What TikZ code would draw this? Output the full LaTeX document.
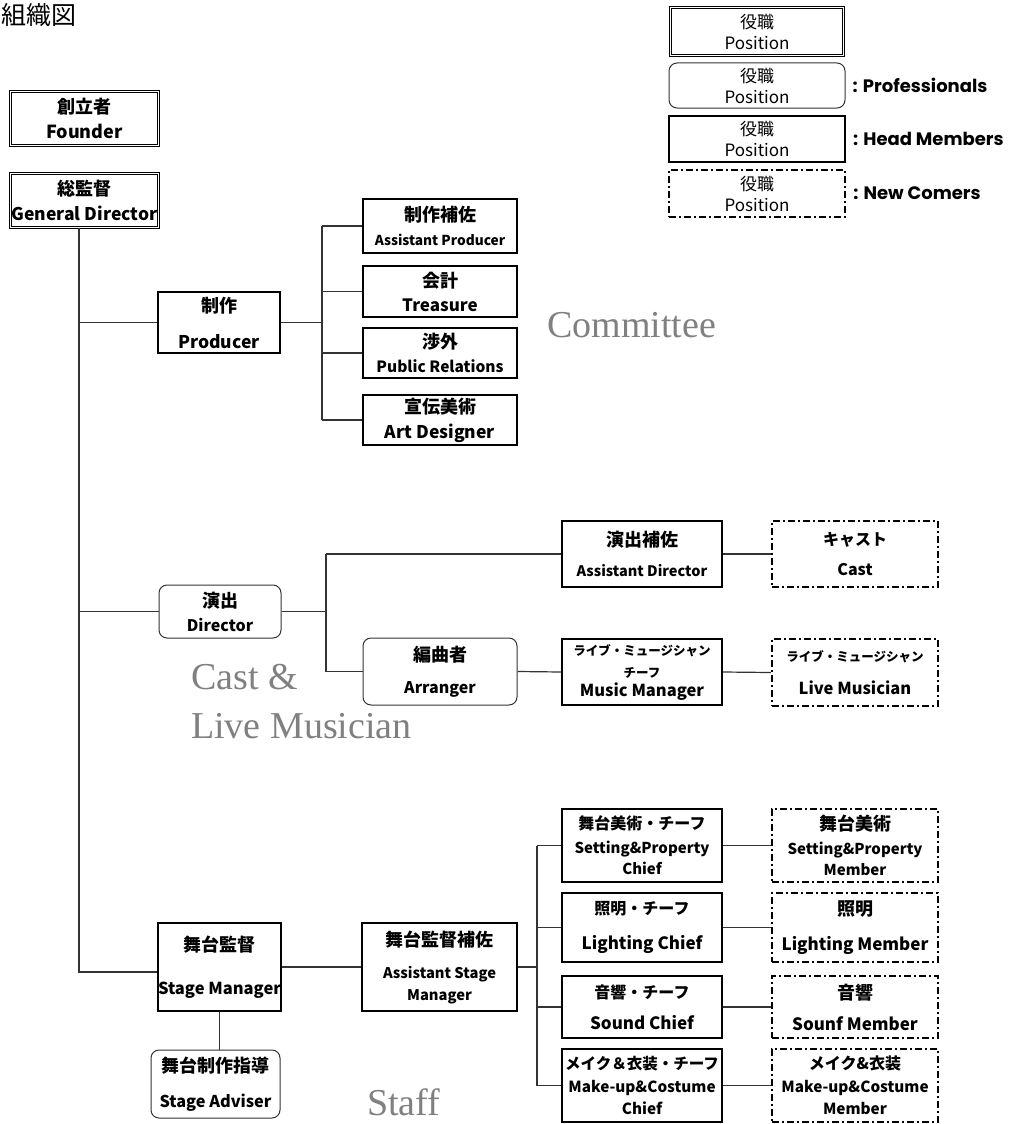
\documentclass[tikz,border=0pt]{standalone}
\usepackage{fontspec}
\setmainfont{Liberation Serif}
\newfontfamily\jpf{Noto Sans CJK JP}
\newfontfamily\legf{Poppins}
\usetikzlibrary{positioning}

\definecolor{linegray}{HTML}{333333}
\definecolor{grouptext}{HTML}{808080}

% size switches for the two lines of a box
\newcommand{\jt}[2][18]{{\fontsize{#1}{#1}\selectfont #2}}
\newcommand{\lt}[2][16]{{\fontsize{#1}{#1}\selectfont #2}}

\begin{document}
\begin{tikzpicture}[x=1pt, y=-1pt,
  every node/.style={align=center, inner sep=0pt, font=\jpf\bfseries\fontsize{13}{24}\selectfont},
  topbox/.style={draw, double, double distance=1.6pt, line width=1.1pt},
  headbox/.style={draw, line width=2pt},
  probox/.style={draw=linegray, line width=1pt, rounded corners=8pt},
  newbox/.style={draw, line width=2.4pt, dash pattern=on 7pt off 3pt on 2pt off 3pt},
  comcol/.style={minimum width=154pt},
  chiefcol/.style={minimum width=160pt},
  memcol/.style={minimum width=166pt},
  legtext/.style={font=\jpf\fontsize{17}{22}\selectfont, minimum width=176pt},
  leglabel/.style={font=\legf\bfseries\fontsize{18}{20}\selectfont},
  grouplabel/.style={font=\fontsize{38}{49}\selectfont, text=grouptext, align=left},
  conn/.style={draw=linegray, line width=1.2pt}]
\useasboundingbox (0,0) rectangle (1030,1124);

% title
\node[font=\jpf\fontsize{25}{25}\selectfont, anchor=north west] (title) at (1,3) {組織図};

% legend
\node[legtext, topbox, minimum width=173pt, minimum height=48pt] (legtop) at (757,31.5) {役職\\[-1pt]Position};
\node[legtext, probox, minimum height=45pt] (legpro) at (757,85.5) {役職\\[-1pt]Position};
\node[legtext, headbox, minimum height=46pt] (leghead) at (757,139) {役職\\[-1pt]Position};
\node[legtext, newbox, minimum height=47pt] (legnew) at (757,193.5) {役職\\[-1pt]Position};
\node[leglabel, right=7pt of legpro] (labpro) {: Professionals};
\node[leglabel, right=7pt of leghead] (labhead) {: Head Members};
\node[leglabel, right=7pt of legnew] (labnew) {: New Comers};

% top of the tree
\node[topbox, minimum width=148pt, minimum height=54pt] (founder) at (84.5,118.5) {\jt{創立者}\\[1pt]\lt[18]{Founder}};
\node[topbox, minimum width=148pt, minimum height=54pt] (gendir) at (84.5,200.5) {\jt{総監督}\\[1pt]\lt[17.5]{General Director}};

% committee
\node[headbox, minimum width=122pt, minimum height=61pt] (producer) at (219,322.5) {\jt{制作}\\[12pt]\lt[17.5]{Producer}};
\node[headbox, comcol, minimum height=54pt] (asstprod) at (440,226) {\jt{制作補佐}\\\lt[13.7]{Assistant Producer}};
\node[headbox, comcol, minimum height=51pt] (treasure) at (440,291.5) {\jt{会計}\\\lt[17]{Treasure}};
\node[headbox, comcol, minimum height=50pt] (pubrel) at (440,353) {\jt{渉外}\\\lt[15.5]{Public Relations}};
\node[headbox, comcol, minimum height=50pt] (artdes) at (440,420) {\jt{宣伝美術}\\[1pt]\lt[17.5]{Art Designer}};
\node[grouplabel, anchor=base west] (committee) at (547,337) {Committee};

% cast & live musician
\node[probox, minimum width=122pt, minimum height=53pt] (director) at (220,611.5) {\jt{演出}\\\lt[16]{Director}};
\node[headbox, chiefcol, minimum height=66pt] (asstdir) at (642,554) {\jt{演出補佐}\\[6pt]\lt[14.5]{Assistant Director}};
\node[newbox, memcol, minimum height=66pt] (cast) at (855,554) {\jt[16]{キャスト}\\[6pt]\lt[16]{Cast}};
\node[probox, comcol, minimum height=67pt] (arranger) at (440,671.5) {\jt{編曲者}\\[8pt]\lt[16]{Arranger}};
\node[headbox, chiefcol, minimum height=66pt] (musicmgr) at (642,672) {\jt[12.5]{ライブ・ミュージシャン}\\[-2pt]\jt[12.5]{チーフ}\\[-5pt]\lt[16.5]{Music Manager}};
\node[newbox, memcol, minimum height=67pt] (livemus) at (855,672.5) {\jt[12.5]{ライブ・ミュージシャン}\\[9pt]\lt[16.5]{Live Musician}};
\node[grouplabel, anchor=base west] (castlabel) at (191,738) {Cast \&\\Live Musician};

% staff
\node[headbox, minimum width=123pt, minimum height=88pt] (stagemgr) at (219.5,967) {\jt{舞台監督}\\[19pt]\lt[16.5]{Stage Manager}};
\node[probox, minimum width=129pt, minimum height=68pt] (stageadv) at (215.5,1084) {\jt{舞台制作指導}\\[11pt]\lt[16.3]{Stage Adviser}};
\node[headbox, minimum width=155pt, minimum height=88pt] (asststage) at (439.5,967) {\jt{舞台監督補佐}\\[8pt]\lt[14.7]{Assistant Stage}\\[-2pt]\lt[14.7]{Manager}};
\node[headbox, chiefcol, minimum height=73pt] (setchief) at (642,845.5) {\jt[16]{舞台美術・チーフ}\\\lt[15]{Setting\&Property}\\[-3pt]\lt[15]{Chief}};
\node[headbox, chiefcol, minimum height=69pt] (lightchief) at (642,927.5) {\jt[16]{照明・チーフ}\\[11pt]\lt[17]{Lighting Chief}};
\node[headbox, chiefcol, minimum height=62pt] (soundchief) at (642,1007) {\jt[16]{音響・チーフ}\\[7pt]\lt[17]{Sound Chief}};
\node[headbox, chiefcol, minimum height=73pt] (makechief) at (642,1085.5) {\jt[15.5]{メイク＆衣装・チーフ}\\[-1pt]\lt[15.3]{Make-up\&Costume}\\[-2pt]\lt[15.3]{Chief}};
\node[newbox, memcol, minimum height=73pt] (setmem) at (855,845.5) {\jt{舞台美術}\\\lt[15]{Setting\&Property}\\[-3pt]\lt[15]{Member}};
\node[newbox, memcol, minimum height=69pt] (lightmem) at (855,927.5) {\jt{照明}\\[11pt]\lt[17]{Lighting Member}};
\node[newbox, memcol, minimum height=62pt] (soundmem) at (855,1007) {\jt{音響}\\[7pt]\lt[17]{Sounf Member}};
\node[newbox, memcol, minimum height=73pt] (makemem) at (855,1085.5) {\jt[16]{メイク\&衣装}\\[-1pt]\lt[15.3]{Make-up\&Costume}\\[-2pt]\lt[15.3]{Member}};
\node[grouplabel, anchor=base west] (stafflabel) at (367,1115) {Staff};

% connectors
\coordinate (spinetop) at ([xshift=-5.5pt]gendir.south);
\coordinate (prodfork) at (322,322);
\coordinate (dirfork) at (326,611);
\coordinate (stagefork) at (537,967);
\draw[conn] (spinetop) |- ([yshift=-5pt]stagemgr.west);
\draw[conn] (spinetop |- producer.west) -- (producer.west);
\draw[conn] (spinetop |- director.west) -- (director.west);
\draw[conn] (producer.east) -- (prodfork |- producer.east);
\draw[conn] (prodfork |- asstprod.west) -- (prodfork |- artdes.west);
\foreach \n in {asstprod, treasure, pubrel, artdes}
  \draw[conn] (prodfork |- \n.west) -- (\n.west);
\draw[conn] (director.east) -- (dirfork |- director.east);
\draw[conn] (dirfork |- asstdir.west) -- (dirfork |- arranger.west);
\draw[conn] (dirfork |- asstdir.west) -- (asstdir.west);
\draw[conn] (dirfork |- arranger.west) -- (arranger.west);
\draw[conn] (stagemgr.east) -- (asststage.west);
\draw[conn] (stagemgr.south) -- (stagemgr.south |- stageadv.north);
\draw[conn] (asststage.east) -- (stagefork |- asststage.east);
\draw[conn] (stagefork |- setchief.west) -- (stagefork |- makechief.west);
\foreach \n in {setchief, lightchief, soundchief, makechief}
  \draw[conn] (stagefork |- \n.west) -- (\n.west);
\foreach \a/\b in {asstdir/cast, arranger/musicmgr, musicmgr/livemus, setchief/setmem, lightchief/lightmem, soundchief/soundmem, makechief/makemem}
  \draw[conn] (\a.east) -- (\b.west);
\end{tikzpicture}
\end{document}
